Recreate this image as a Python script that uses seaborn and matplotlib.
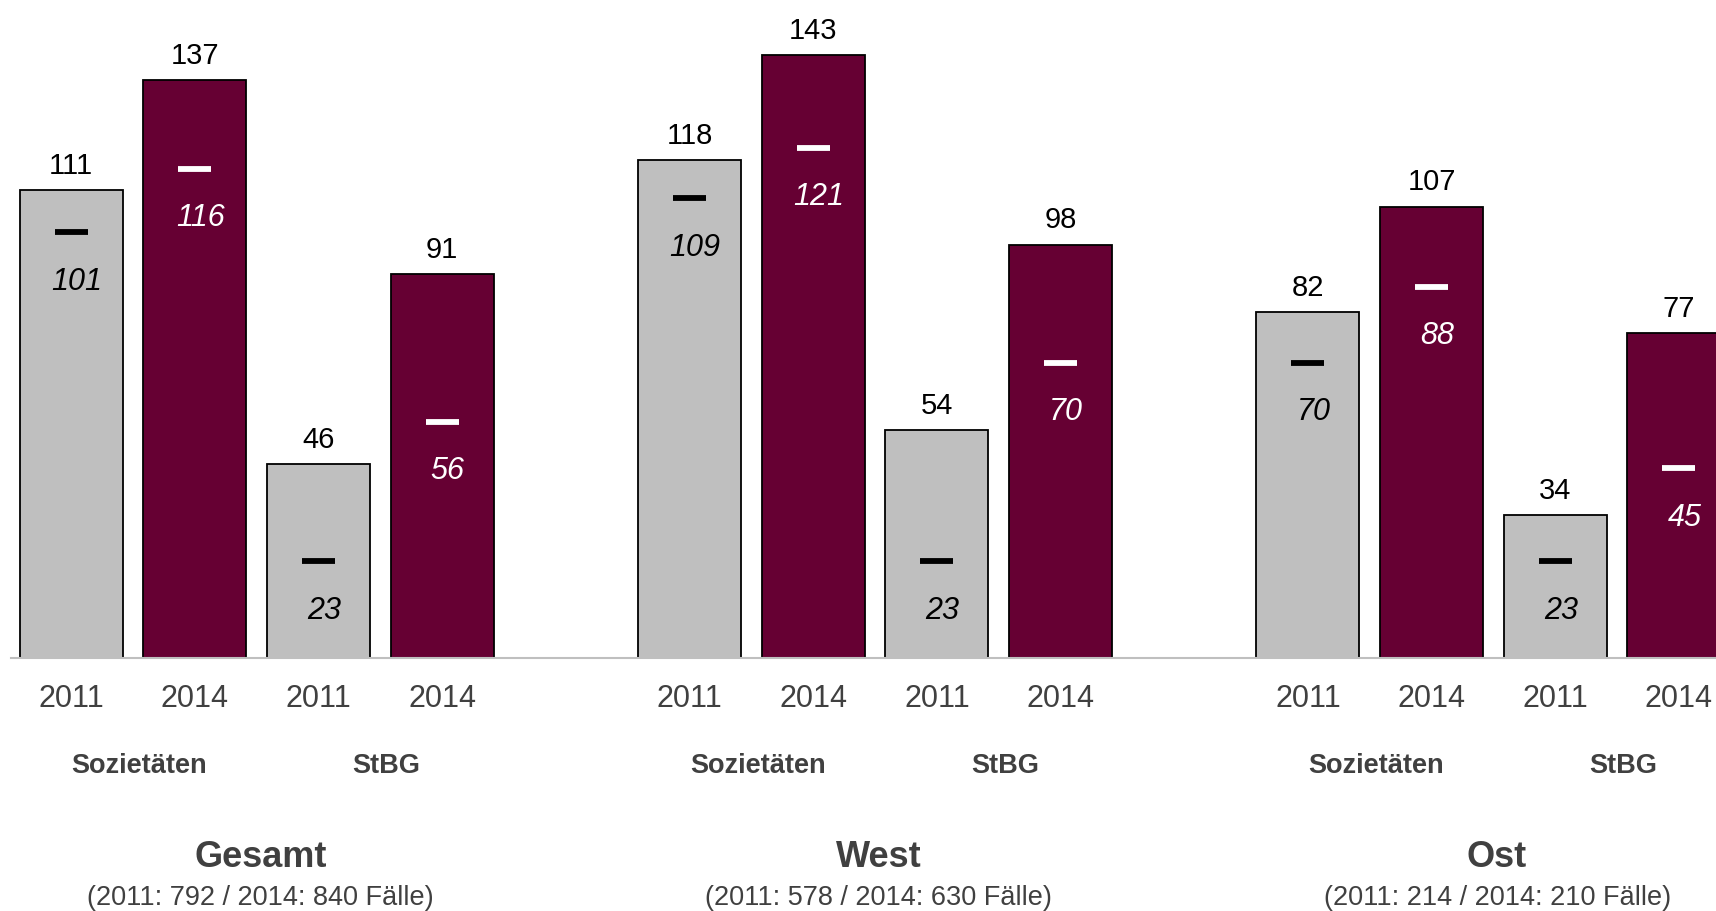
import numpy as np
import pandas as pd
import matplotlib
matplotlib.use("Agg")
import matplotlib.pyplot as plt
import seaborn as sns

# data
groups = ["Gesamt", "West", "Ost"]
subtitles = ["(2011: 792 / 2014: 840 Fälle)",
             "(2011: 578 / 2014: 630 Fälle)",
             "(2011: 214 / 2014: 210 Fälle)"]
kinds = ["Sozietäten", "StBG"]
years = ["2011", "2014"]
# order per group: Soz 2011, Soz 2014, StBG 2011, StBG 2014
mean_values = [111, 137, 46, 91,
               118, 143, 54, 98,
               82, 107, 34, 77]
median_values = [101, 116, 23, 56,
                 109, 121, 23, 70,
                 70, 88, 23, 45]

grey = "#BFBFBF"
wine = "#660033"
txt = "#404040"

sns.set_theme(style="white")
plt.rcParams["font.family"] = ["Liberation Sans Narrow", "Liberation Sans", "DejaVu Sans"]

# build the table, 5 slots per group (4 bars + gap)
rows = []
for g, grp in enumerate(groups):
    for k, kind in enumerate(kinds):
        for y, yr in enumerate(years):
            i = g * 4 + k * 2 + y
            rows.append({"pos": g * 5 + k * 2 + y, "group": grp, "kind": kind,
                         "year": yr, "value": mean_values[i], "median": median_values[i]})
df = pd.DataFrame(rows)

fig = plt.figure(figsize=(17.16, 9.12), dpi=100)
ax = fig.add_axes([0.0064, 0.2773, 0.9936, 0.7227])

sns.barplot(data=df, x="pos", y="value", hue="year", palette={"2011": grey, "2014": wine},
            native_scale=True, dodge=False, width=0.832, edgecolor="black", linewidth=1.3,
            saturation=1, legend=False, ax=ax)

ax.set_xlim(-0.487, 13.30)
ax.set_ylim(0, 156.2)

# value labels on top and median dashes inside
for _, r in df.iterrows():
    ax.annotate(str(r["value"]), (r["pos"], r["value"]), xytext=(0, 8), textcoords="offset points",
                ha="center", va="bottom", fontsize=21, color="black")
    c = "black" if r["year"] == "2011" else "white"
    ax.hlines(r["median"], r["pos"] - 0.133, r["pos"] + 0.133, color=c, lw=4.2)
    ax.annotate(str(r["median"]), (r["pos"], r["median"]), xytext=(4, -35), textcoords="offset points",
                ha="center", va="center", fontsize=22, color=c, style="italic")

# axis styling
for s in ["top", "right", "left"]:
    ax.spines[s].set_visible(False)
ax.spines["bottom"].set_color(grey)
ax.spines["bottom"].set_linewidth(1.5)
ax.set_yticks([])
ax.set_xticks(df["pos"])
ax.set_xticklabels(df["year"], fontsize=22, color=txt)
ax.tick_params(axis="x", length=0, pad=18)
ax.set_xlabel("")
ax.set_ylabel("")

# category and group labels under the axis
for g, grp in enumerate(groups):
    for k, kind in enumerate(kinds):
        xc = g * 5 + k * 2 + 0.55
        ax.annotate(kind, (xc, 0), xytext=(0, -77), textcoords="offset points",
                    ha="center", va="center", fontsize=19.5, fontweight="bold", color=txt,
                    annotation_clip=False)
    xc = g * 5 + 1.53
    ax.annotate(grp, (xc, 0), xytext=(0, -143), textcoords="offset points",
                ha="center", va="center", fontsize=26, fontweight="bold", color=txt,
                annotation_clip=False)
    ax.annotate(subtitles[g], (xc, 0), xytext=(0, -172), textcoords="offset points",
                ha="center", va="center", fontsize=19.5, color=txt, annotation_clip=False)

fig.savefig("out.png", dpi=100)
